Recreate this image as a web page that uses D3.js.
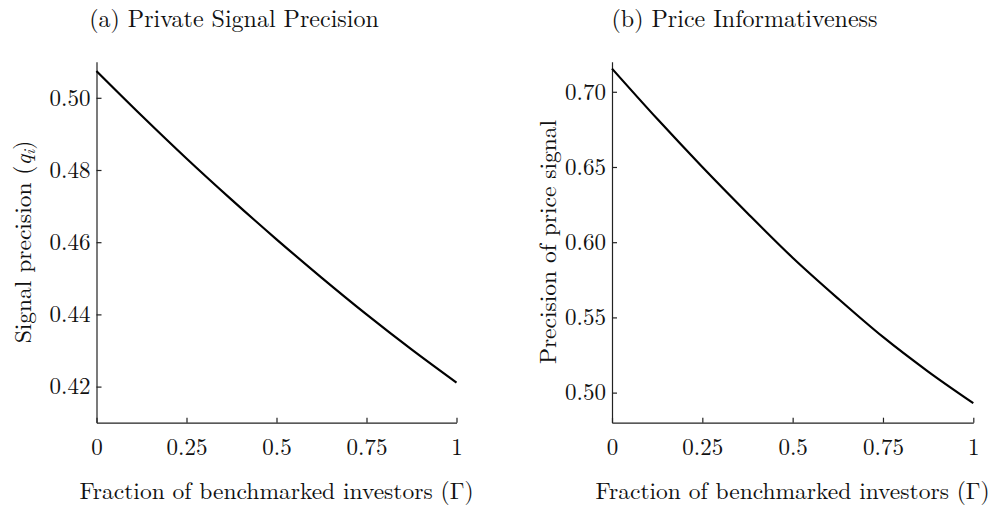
<!DOCTYPE html>
<html>
<head>
<meta charset="utf-8">
<script src="https://cdn.jsdelivr.net/npm/d3@7"></script>
<style>
  body { margin: 0; background: #fff; }
  svg { display: block; }
  text { font-family: "Latin Modern Roman", "CMU Serif", "Liberation Serif", serif; fill: #111; }
  .axis path, .axis line { stroke: #222; stroke-width: 1.2px; }
</style>
</head>
<body>
<div id="chart"></div>
<script>
// fraction of benchmarked investors (Gamma)
var gamma = [0, 0.125, 0.25, 0.375, 0.5, 0.625, 0.75, 0.875, 1];
// (a) private signal precision q_i
var signalPrecision = [0.5074, 0.4951, 0.4832, 0.4718, 0.4608, 0.4502, 0.4400, 0.4303, 0.4211];
// (b) precision of price signal
var priceInformativeness = [0.7154, 0.6820, 0.6500, 0.6193, 0.5897, 0.5627, 0.5370, 0.5140, 0.4930];

var xTicks = [0, 0.25, 0.5, 0.75, 1],
    xTickLabels = ['0', '0.25', '0.5', '0.75', '1'],
    leftYTicks = [0.42, 0.44, 0.46, 0.48, 0.50],
    rightYTicks = [0.50, 0.55, 0.60, 0.65, 0.70];

var width = 990, height = 510,
    tickSize = 23, titleSize = 24, labelSize = 23.5;

var svg = d3.select('#chart').append('svg')
    .attr('width', width)
    .attr('height', height);

var panel = function(opts) {
    var x = d3.scaleLinear().domain([0, 1]).range([opts.left, opts.right]),
        y = d3.scaleLinear().domain(opts.domain).range([422.7, 61.7]),
        g = svg.append('g');

    var line = d3.line()
        .x(function(d) { return x(d[0]); })
        .y(function(d) { return y(d[1]); })
        .curve(d3.curveMonotoneX);

    g.append('g')
        .attr('class', 'axis')
        .attr('transform', 'translate(0,' + y.range()[0] + ')')
        .call(d3.axisBottom(x)
            .tickValues(xTicks)
            .tickFormat(function(d, i) { return xTickLabels[i]; })
            .tickSizeInner(-5)
            .tickSizeOuter(0)
            .tickPadding(16))
        .call(function(a) { a.selectAll('text').style('font-size', tickSize + 'px').attr('fill', '#111'); });

    g.append('g')
        .attr('class', 'axis')
        .attr('transform', 'translate(' + x.range()[0] + ',0)')
        .call(d3.axisLeft(y)
            .tickValues(opts.ticks)
            .tickFormat(d3.format('.2f'))
            .tickSizeInner(-5)
            .tickSizeOuter(0)
            .tickPadding(6))
        .call(function(a) { a.selectAll('text').style('font-size', tickSize + 'px').attr('fill', '#111'); });

    g.append('path')
        .datum(gamma.map(function(d, i) { return [d, opts.values[i]]; }))
        .attr('fill', 'none')
        .attr('stroke', '#000')
        .attr('stroke-width', 2.2)
        .attr('d', line);

    g.append('text')
        .attr('x', opts.titleX)
        .attr('y', 27)
        .attr('text-anchor', 'middle')
        .style('font-size', titleSize + 'px')
        .text(opts.title);

    g.append('text')
        .attr('x', (opts.left + opts.right) / 2)
        .attr('y', 499)
        .attr('text-anchor', 'middle')
        .style('font-size', labelSize + 'px')
        .text('Fraction of benchmarked investors (\u0393)');

    var yl = g.append('text')
        .attr('transform', 'translate(' + opts.ylabelX + ',242) rotate(-90)')
        .attr('text-anchor', 'middle')
        .style('font-size', labelSize + 'px');
    opts.ylabel(yl);
};

panel({
    left: 96.5, right: 456.5,
    domain: [0.41, 0.51],
    ticks: leftYTicks,
    values: signalPrecision,
    title: '(a) Private Signal Precision',
    titleX: 234,
    ylabelX: 31,
    ylabel: function(t) {
        t.append('tspan').text('Signal precision (');
        t.append('tspan').style('font-style', 'italic').text('q');
        t.append('tspan').style('font-style', 'italic').style('font-size', '16px').attr('dy', 4).text('i');
        t.append('tspan').attr('dy', -4).text(')');
    }
});

panel({
    left: 612, right: 973.3,
    domain: [0.48, 0.72],
    ticks: rightYTicks,
    values: priceInformativeness,
    title: '(b) Price Informativeness',
    titleX: 744.5,
    ylabelX: 556,
    ylabel: function(t) { t.text('Precision of price signal'); }
});
</script>
</body>
</html>
